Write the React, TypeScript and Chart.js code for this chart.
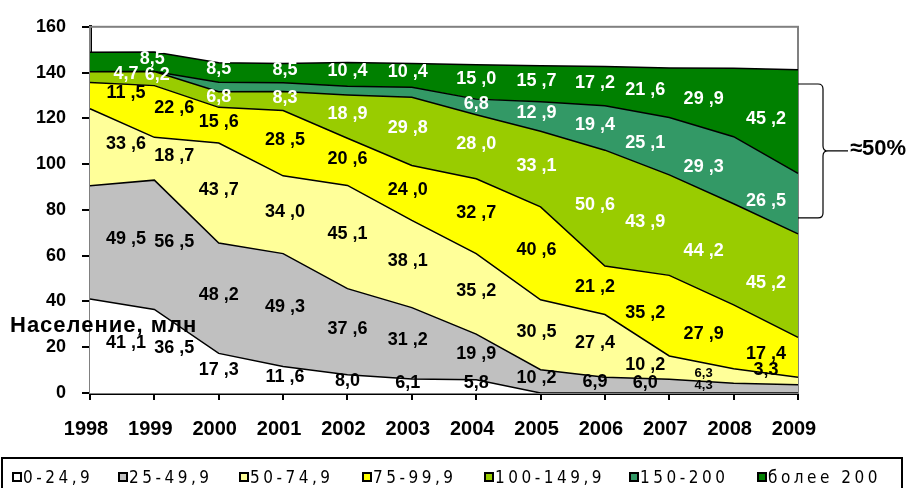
import React, { useEffect, useRef } from "react";
import { Chart, registerables } from "chart.js";

Chart.register(...registerables);

// ---------------- data ----------------
const years = ["1998", "1999", "2000", "2001", "2002", "2003", "2004", "2005", "2006", "2007", "2008", "2009"];
const inc0_24 = [41.1, 36.5, 17.3, 11.6, 8.0, 6.1, 5.8, 0, 0, 0, 0, 0];
const inc25_49 = [49.5, 56.5, 48.2, 49.3, 37.6, 31.2, 19.9, 10.2, 6.9, 6.0, 4.3, 3.6];
const inc50_74 = [33.6, 18.7, 43.7, 34.0, 45.1, 38.1, 35.2, 30.5, 27.4, 10.2, 6.3, 3.3];
const inc75_99 = [11.5, 22.6, 15.6, 28.5, 20.6, 24.0, 32.7, 40.6, 21.2, 35.2, 27.9, 17.4];
const inc100_149 = [4.7, 6.2, 6.8, 8.3, 18.9, 29.8, 28.0, 33.1, 50.6, 43.9, 44.2, 45.2];
const inc150_200 = [0, 0, 4.2, 3.8, 3.8, 4.4, 6.8, 12.9, 19.4, 25.1, 29.3, 26.5];
const incOver200 = [8.5, 8.5, 8.5, 8.5, 10.4, 10.4, 15.0, 15.7, 17.2, 21.6, 29.9, 45.2];
const seriesNames = ["0-24,9", "25-49,9", "50-74,9", "75-99,9", "100-149,9", "150-200", "более  200"];
const yMin = 0;
const yMax = 160;
const yStep = 20;
const axisTitle = "Население, млн";
const bracketLabel = "≈50%";
const bracketFrom = 135; // value range covered by the brace
const bracketTo = 76.5;
// labels that are not printed in the original: [series, yearIndex]
const hiddenLabels = [[6, 0], [1, 11], [5, 2], [5, 3], [5, 4], [5, 5]];

// ---------------- styling ----------------
const series = [inc0_24, inc25_49, inc50_74, inc75_99, inc100_149, inc150_200, incOver200];
const fills = ["#FFFFFF", "#C0C0C0", "#FFFF99", "#FFFF00", "#99CC00", "#339966", "#008000"];
const labelColors = ["#000", "#000", "#000", "#000", "#FFF", "#FFF", "#FFF"];
const labelDx = [36, 20, 0, 2, 0, -4, 0, -4, -10, -24, -30, -32];
const labelDxOverride: Record<string, number> = { "4-1": 3, "6-1": -2 };
const smallLabels: Record<string, boolean> = { "2-10": true, "1-10": true };
const FONT = "'Liberation Sans', Arial, sans-serif";
const legendX = [12, 118, 239, 362, 484, 629, 757];

function fmt(v: number) {
  const [a, b] = v.toFixed(1).split(".");
  return a.length >= 2 ? `${a} ,${b}` : `${a},${b}`;
}

const frameBorder = {
  id: "frameBorder",
  beforeDatasetsDraw(chart: any) {
    const { ctx, chartArea } = chart;
    ctx.save();
    ctx.strokeStyle = "#808080";
    ctx.lineWidth = 2;
    ctx.strokeRect(chartArea.left, chartArea.top, chartArea.right - chartArea.left, chartArea.bottom - chartArea.top);
    ctx.restore();
  },
};

const bandLabels = {
  id: "bandLabels",
  afterDatasetsDraw(chart: any) {
    const { ctx } = chart;
    const xs = chart.scales.x;
    const ys = chart.scales.y;
    ctx.save();
    ctx.textAlign = "center";
    ctx.textBaseline = "middle";
    for (let j = 0; j < years.length; j++) {
      let cum = 0;
      for (let i = 0; i < series.length; i++) {
        const v = series[i][j];
        const lo = cum;
        cum += v;
        if (v <= 0) continue;
        if (hiddenLabels.some(([a, b]) => a === i && b === j)) continue;
        const key = `${i}-${j}`;
        const dx = labelDxOverride[key] ?? labelDx[j];
        const x = xs.getPixelForValue(j) + dx;
        let y = (ys.getPixelForValue(lo) + ys.getPixelForValue(cum)) / 2 - 3;
        if (i === 2 && j === 11) y -= 8;
        const small = smallLabels[key];
        ctx.font = `bold ${small ? 13 : 18}px ${FONT}`;
        ctx.fillStyle = labelColors[i];
        ctx.fillText(fmt(v), x, y);
      }
    }
    ctx.restore();
  },
};

const brace = {
  id: "brace",
  afterDraw(chart: any) {
    const { ctx, chartArea } = chart;
    const ys = chart.scales.y;
    const x0 = chartArea.right;
    const x1 = x0 + 25;
    const tip = x0 + 50;
    const yT = ys.getPixelForValue(bracketFrom);
    const yB = ys.getPixelForValue(bracketTo);
    const yM = (yT + yB) / 2;
    const r = 5;
    ctx.save();
    ctx.strokeStyle = "#000";
    ctx.lineWidth = 1.2;
    ctx.beginPath();
    ctx.moveTo(x0, yT);
    ctx.lineTo(x1 - r, yT);
    ctx.quadraticCurveTo(x1, yT, x1, yT + r);
    ctx.lineTo(x1, yM - r);
    ctx.quadraticCurveTo(x1, yM, x1 + r, yM);
    ctx.lineTo(tip, yM);
    ctx.moveTo(x1 + r, yM);
    ctx.quadraticCurveTo(x1, yM, x1, yM + r);
    ctx.lineTo(x1, yB - r);
    ctx.quadraticCurveTo(x1, yB, x1 - r, yB);
    ctx.lineTo(x0, yB);
    ctx.stroke();
    ctx.restore();
  },
};

export default function App() {
  const ref = useRef<HTMLCanvasElement>(null);

  useEffect(() => {
    if (!ref.current) return;
    const chart = new Chart(ref.current, {
      type: "line",
      data: {
        labels: years,
        datasets: series.map((d, i) => ({
          label: seriesNames[i],
          data: d,
          backgroundColor: fills[i],
          borderColor: "#000",
          borderWidth: 1.5,
          fill: i === 0 ? "origin" : "-1",
          pointRadius: 0,
          pointHoverRadius: 0,
          tension: 0,
        })),
      },
      options: {
        responsive: false,
        animation: false,
        maintainAspectRatio: false,
        layout: { padding: { top: 22, right: 116, left: 0, bottom: 0 } },
        plugins: { legend: { display: false }, tooltip: { enabled: false } },
        scales: {
          x: {
            type: "category",
            offset: false,
            z: 1,
            grid: { display: true, drawOnChartArea: false, drawTicks: true, tickLength: 7, color: "#000", lineWidth: 2 },
            border: { display: true, color: "#000", width: 3 },
            ticks: { color: "#000", font: { family: FONT, size: 20, weight: "bold" }, padding: 17, labelOffset: -4, maxRotation: 0, autoSkip: false },
            afterFit: (s: any) => { s.height = 95; },
          },
          y: {
            stacked: true,
            min: yMin,
            max: yMax,
            z: 1,
            grid: { display: true, drawOnChartArea: false, drawTicks: true, tickLength: 8, color: "#000", lineWidth: 2 },
            border: { display: true, color: "#000", width: 3 },
            ticks: { stepSize: yStep, color: "#000", font: { family: FONT, size: 18, weight: "bold" }, padding: 16 },
            afterFit: (s: any) => { s.width = 90; },
          },
        },
      } as any,
      plugins: [frameBorder, bandLabels, brace],
    });
    return () => chart.destroy();
  }, []);

  return (
    <div style={{ position: "fixed", left: 0, top: 0, width: 914, height: 488, background: "#fff", overflow: "hidden" }}>
      <canvas ref={ref} width={914} height={488} style={{ position: "absolute", left: 0, top: 0, width: 914, height: 488 }} />
      <div style={{ position: "absolute", left: 10, top: 312, font: `bold 22px ${FONT}`, letterSpacing: "1px", lineHeight: "26px", color: "#000", whiteSpace: "nowrap" }}>
        {axisTitle}
      </div>
      <div style={{ position: "absolute", left: 850, top: 135, font: `bold 22px ${FONT}`, lineHeight: "26px", color: "#000", whiteSpace: "nowrap" }}>
        {bracketLabel}
      </div>
      <div style={{ position: "absolute", left: 1, top: 457, width: 898, height: 40, border: "2px solid #000", borderBottom: "none" }} />
      {seriesNames.map((n, i) => (
        <div key={n} style={{ position: "absolute", left: legendX[i], top: 466, height: 22, display: "flex", alignItems: "center", whiteSpace: "nowrap" }}>
          <span style={{ display: "inline-block", width: 6, height: 6, border: "2px solid #000", background: fills[i], marginRight: 1 }} />
          <span style={{ font: `17px 'Liberation Sans Narrow', 'DejaVu Sans Condensed', sans-serif`, letterSpacing: "3.5px", color: "#000" }}>{n}</span>
        </div>
      ))}
    </div>
  );
}
